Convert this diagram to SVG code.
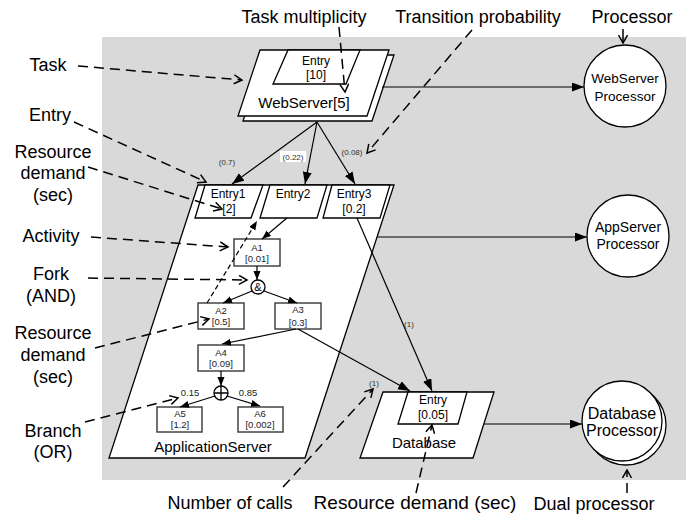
<svg xmlns="http://www.w3.org/2000/svg" width="686" height="517" viewBox="0 0 686 517">
<style>
 .lbl{font-family:"Liberation Sans",Arial,sans-serif;font-size:18px;fill:#000;text-anchor:middle}
 .t{font-family:"Liberation Sans",Arial,sans-serif;text-anchor:middle;fill:#000}
 .e{font-size:12px}
 .a{font-size:9.5px;fill:#222}
 .shape{fill:#fff;stroke:#000;stroke-width:1.3}
 .act{fill:#fff;stroke:#444;stroke-width:1.5}
 .conn{stroke:#000;stroke-width:1.2;fill:none}
 .ann{stroke:#000;stroke-width:1.5;fill:none;stroke-dasharray:10,6}
 .prob{font-family:"Liberation Sans",Arial,sans-serif;font-size:8px;fill:#333;text-anchor:middle}
</style>
<defs>
 <marker id="arr" markerUnits="userSpaceOnUse" markerWidth="13" markerHeight="10" refX="12" refY="4.5" orient="auto"><path d="M0,0 L12,4.5 L0,9 z" fill="#000"/></marker>
 <marker id="arrS" markerUnits="userSpaceOnUse" markerWidth="10" markerHeight="8" refX="9" refY="3.5" orient="auto"><path d="M0,0 L9,3.5 L0,7 z" fill="#000"/></marker>
 <marker id="open" markerUnits="userSpaceOnUse" markerWidth="12" markerHeight="12" refX="9" refY="5" orient="auto"><path d="M1,0.5 L9,5 L1,9.5" fill="none" stroke="#000" stroke-width="1.5"/></marker>
</defs>
<rect x="102" y="37" width="584" height="443" fill="#d9d9d9"/>

<g id="webserver">
 <polygon class="shape" points="265,55 394,55 372,121 243,121"/>
 <polygon class="shape" points="260,50 389,50 367,116 238,116"/>
 <polygon class="shape" points="288,50 360,50 346,84 273,84"/>
 <text class="t e" x="316" y="65">Entry</text>
 <text class="t e" x="316" y="79">[10]</text>
 <text class="t" style="font-size:15px" x="304" y="108">WebServer[5]</text>
</g>

<g id="webserver-processor">
 <circle class="shape" cx="625" cy="86" r="41"/>
 <text class="t" style="font-size:13.5px" x="625" y="83">WebServer</text>
 <text class="t" style="font-size:13.5px" x="625" y="101">Processor</text>
</g>

<g id="appserver">
 <polygon class="shape" points="198,185 394,185 305,458 109,458"/>
 <polygon class="shape" points="205,185 263,185 251,218 195,218"/>
 <polygon class="shape" points="270,185 327,185 317,218 260,218"/>
 <polygon class="shape" points="332,185 390,185 380,218 323,218"/>
 <text class="t e" x="228" y="198">Entry1</text>
 <text class="t e" x="229" y="213">[2]</text>
 <text class="t e" x="293" y="198">Entry2</text>
 <text class="t e" x="354" y="198">Entry3</text>
 <text class="t e" x="354" y="213">[0.2]</text>
 <text class="t" style="font-size:15px" x="213" y="452">ApplicationServer</text>
</g>

<g id="a1"><rect class="act" x="234" y="239" width="46" height="27"/><text class="t a" x="257" y="251">A1</text><text class="t a" x="257" y="262">[0.01]</text></g>
<g id="fork"><circle class="shape" cx="258" cy="287" r="7"/><text class="t" style="font-size:11px" x="258" y="291">&amp;</text></g>
<g id="a2"><rect class="act" x="198" y="303" width="46" height="26"/><text class="t a" x="221" y="314">A2</text><text class="t a" x="221" y="325">[0.5]</text></g>
<g id="a3"><rect class="act" x="275" y="303" width="46" height="26"/><text class="t a" x="298" y="313">A3</text><text class="t a" x="298" y="326">[0.3]</text></g>
<g id="a4"><rect class="act" x="198" y="345" width="46" height="26"/><text class="t a" x="221" y="356">A4</text><text class="t a" x="221" y="367">[0.09]</text></g>
<g id="branch"><circle class="shape" cx="221" cy="393" r="7"/><path d="M214,393 H228 M221,386 V400" stroke="#000" stroke-width="1.3"/></g>
<g id="a5"><rect class="act" x="157" y="407" width="45" height="25"/><text class="t a" x="180" y="417">A5</text><text class="t a" x="180" y="428">[1.2]</text></g>
<g id="a6"><rect class="act" x="238" y="407" width="45" height="25"/><text class="t a" x="260" y="417">A6</text><text class="t a" x="260" y="428">[0.002]</text></g>

<g id="appserver-processor">
 <circle class="shape" cx="628" cy="236" r="41"/>
 <text class="t" style="font-size:14px" x="628" y="232">AppServer</text>
 <text class="t" style="font-size:14px" x="628" y="249">Processor</text>
</g>

<g id="database">
 <polygon class="shape" points="383,392 494,392 473,458 360,458"/>
 <polygon class="shape" points="408,392 467,392 458,424 398,424"/>
 <text class="t e" x="433" y="404">Entry</text>
 <text class="t e" x="433" y="419">[0.05]</text>
 <text class="t" style="font-size:15px" x="424" y="448">Database</text>
</g>

<g id="database-processor">
 <circle class="shape" cx="626" cy="425" r="40"/>
 <circle class="shape" cx="622" cy="421" r="40"/>
 <text class="t" style="font-size:16px" x="622" y="419">Database</text>
 <text class="t" style="font-size:16px" x="622" y="436">Processor</text>
</g>

<g id="connectors">
 <line class="conn" x1="382" y1="87" x2="584" y2="87" marker-end="url(#arr)"/>
 <line class="conn" x1="317" y1="122" x2="232" y2="184" marker-end="url(#arr)"/>
 <line class="conn" x1="317" y1="122" x2="305" y2="184" marker-end="url(#arr)"/>
 <line class="conn" x1="317" y1="122" x2="355" y2="184" marker-end="url(#arr)"/>
 <line class="conn" x1="377" y1="237" x2="587" y2="237" marker-end="url(#arr)"/>
 <line class="conn" x1="484" y1="424" x2="582" y2="424" marker-end="url(#arr)"/>
 <line class="conn" x1="357" y1="218" x2="432" y2="391" marker-end="url(#arr)"/>
 <line class="conn" x1="298" y1="329" x2="410" y2="391" marker-end="url(#arr)"/>
 <line class="conn" x1="287" y1="218" x2="262" y2="239" marker-end="url(#arrS)"/>
 <line class="conn" x1="257" y1="266" x2="257" y2="280" marker-end="url(#arrS)"/>
 <line class="conn" x1="252" y1="291" x2="223" y2="303" marker-end="url(#arrS)"/>
 <line class="conn" x1="264" y1="291" x2="297" y2="303" marker-end="url(#arrS)"/>
 <line class="conn" x1="296" y1="329" x2="222" y2="344" marker-end="url(#arrS)"/>
 <line class="conn" x1="221" y1="371" x2="221" y2="386" marker-end="url(#arrS)"/>
 <line class="conn" x1="215" y1="396" x2="180" y2="407" marker-end="url(#arrS)"/>
 <line class="conn" x1="227" y1="396" x2="260" y2="406" marker-end="url(#arrS)"/>
 <line class="conn" x1="207" y1="303" x2="257" y2="221" stroke-dasharray="5,3" marker-end="url(#arrS)"/>
 <text class="prob" x="227" y="165">(0.7)</text>
 <rect x="280" y="151" width="26" height="11" fill="#fff"/>
 <text class="prob" x="293" y="160">(0.22)</text>
 <text class="prob" x="352" y="155">(0.08)</text>
 <text class="prob" x="409" y="327">(1)</text>
 <text class="prob" x="374" y="386">(1)</text>
 <text class="t a" x="190" y="396">0.15</text>
 <text class="t a" x="248" y="396">0.85</text>
</g>

<g id="annotations">
 <line class="ann" x1="339" y1="27" x2="345" y2="92" marker-end="url(#open)"/>
 <line class="ann" x1="472" y1="30" x2="367" y2="153" marker-end="url(#open)"/>
 <line class="conn" style="stroke-width:1.5" x1="623" y1="29" x2="623" y2="43" marker-end="url(#open)"/>
 <line class="ann" x1="78" y1="66" x2="242" y2="80" marker-end="url(#open)"/>
 <line class="ann" x1="74" y1="122" x2="206" y2="182" marker-end="url(#open)"/>
 <line class="ann" x1="88" y1="167" x2="222" y2="209" marker-end="url(#open)"/>
 <line class="ann" x1="91" y1="237" x2="228" y2="247" marker-end="url(#open)"/>
 <line class="ann" x1="88" y1="278" x2="247" y2="280" marker-end="url(#open)"/>
 <line class="ann" x1="95" y1="348" x2="209" y2="319" marker-end="url(#open)"/>
 <line class="ann" x1="85" y1="422" x2="178" y2="398" marker-end="url(#open)"/>
 <line class="ann" x1="283" y1="487" x2="373" y2="389" marker-end="url(#open)"/>
 <line class="ann" x1="416" y1="493" x2="432" y2="425" marker-end="url(#open)"/>
 <line class="ann" x1="627" y1="493" x2="627" y2="470" marker-end="url(#open)"/>
</g>

<g id="labels">
 <text class="lbl" x="304" y="23">Task multiplicity</text>
 <text class="lbl" x="478" y="23">Transition probability</text>
 <text class="lbl" x="632" y="23">Processor</text>
 <text class="lbl" x="48" y="71">Task</text>
 <text class="lbl" x="50" y="121">Entry</text>
 <text class="lbl" x="53" y="158">Resource</text>
 <text class="lbl" x="53" y="179">demand</text>
 <text class="lbl" x="53" y="201">(sec)</text>
 <text class="lbl" x="51" y="242">Activity</text>
 <text class="lbl" x="51" y="280">Fork</text>
 <text class="lbl" x="51" y="302">(AND)</text>
 <text class="lbl" x="53" y="339">Resource</text>
 <text class="lbl" x="53" y="361">demand</text>
 <text class="lbl" x="53" y="383">(sec)</text>
 <text class="lbl" x="53" y="437">Branch</text>
 <text class="lbl" x="53" y="458">(OR)</text>
 <text class="lbl" x="230" y="509">Number of calls</text>
 <text class="lbl" x="415" y="509" style="font-size:19px">Resource demand (sec)</text>
 <text class="lbl" x="594" y="510">Dual processor</text>
</g>
</svg>
